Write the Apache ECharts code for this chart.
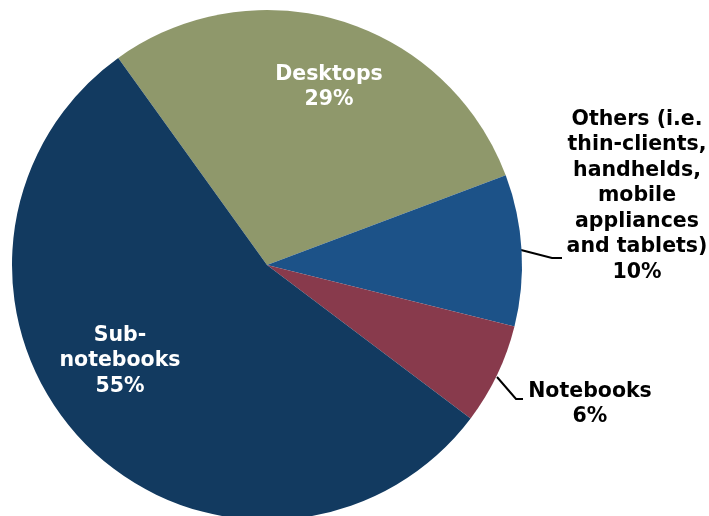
<!DOCTYPE html>
<html><head><meta charset="utf-8">
<script src="https://cdn.jsdelivr.net/npm/echarts@6/dist/echarts.min.js"></script>
<style>html,body{margin:0;padding:0;background:#fff}#c{width:709px;height:516px}</style>
</head><body><div id="c"></div>
<script>
const categories = ['Desktops', 'Others (i.e.\nthin-clients,\nhandhelds,\nmobile\nappliances\nand tablets)', 'Notebooks', 'Sub-\nnotebooks'];
const values = [29.2, 9.6, 6.4, 54.8];
const colors = ['#8F986B', '#1C5288', '#883A4C', '#123A60'];
const insideLabel = [true, false, false, true];

const labelPos = [
  {x: 329, y: 87},
  {x: 637, y: 196},
  {x: 590, y: 404},
  {x: 120, y: 361}
];
const linePts = [
  null,
  [[521, 250], [552, 258], [562, 258]],
  [[497, 377], [516, 399], [523, 399]],
  null
];

const chart = echarts.init(document.getElementById('c'));
chart.setOption({
  animation: false,
  series: [{
    type: 'pie',
    center: [267, 265],
    radius: 255,
    startAngle: 125.7,
    clockwise: true,
    avoidLabelOverlap: false,
    data: categories.map((n, i) => ({
      name: n,
      value: values[i],
      itemStyle: {color: colors[i]},
      label: {
        show: true,
        position: insideLabel[i] ? 'inside' : 'outside',
        color: insideLabel[i] ? '#ffffff' : '#000000'
      },
      labelLine: {show: !insideLabel[i], lineStyle: {color: '#000', width: 2}}
    })),
    label: {
      formatter: p => p.name + '\n' + Math.round(p.value) + '%',
      fontFamily: 'DejaVu Sans',
      fontWeight: 'bold',
      fontSize: 20.5,
      lineHeight: 25.5,
      align: 'center'
    },
    labelLayout: p => ({
      x: labelPos[p.dataIndex].x,
      y: labelPos[p.dataIndex].y,
      align: 'center',
      verticalAlign: 'middle',
      labelLinePoints: linePts[p.dataIndex] || undefined
    }),
    itemStyle: {borderWidth: 0}
  }]
});
</script></body></html>
